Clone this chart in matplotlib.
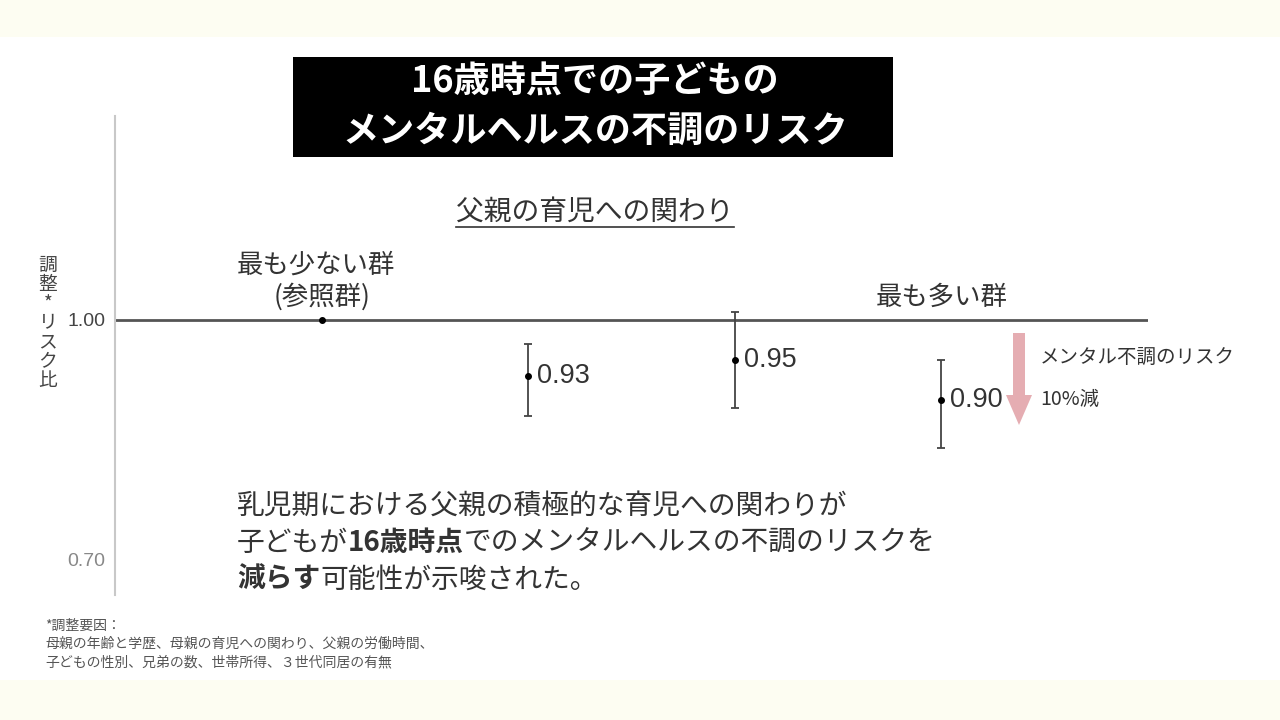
import matplotlib
matplotlib.use('Agg')
import matplotlib.pyplot as plt
from matplotlib.patches import Rectangle, FancyArrow

plt.rcParams['font.family'] = ['Noto Sans CJK JP', 'DejaVu Sans']

# data
x_pos = [1, 2, 3, 4]
risk = [1.00, 0.93, 0.95, 0.90]
ci_low = [0.88, 0.89, 0.84]      # groups 2-4
ci_high = [0.97, 1.01, 0.95]
value_labels = ['0.93', '0.95', '0.90']
yticks = [0.70, 1.00]
ytick_labels = ['0.70', '1.00']

title_lines = ['16歳時点での子どもの', 'メンタルヘルスの不調のリスク']
heading = '父親の育児への関わり'
ref_label = ['最も少ない群', '(参照群)']
top_label = '最も多い群'
ylabel_chars = ['調', '整', '*', 'リ', 'ス', 'ク', '比']
note_lines = ['*調整要因：',
              '母親の年齢と学歴、母親の育児への関わり、父親の労働時間、',
              '子どもの性別、兄弟の数、世帯所得、３世代同居の有無']

txt = '#333333'
num_font = ['Liberation Sans', 'DejaVu Sans']

fig = plt.figure(figsize=(12.8, 7.2), dpi=100)
fig.patch.set_facecolor('white')

# background layer in pixel coords
bg = fig.add_axes([0, 0, 1, 1], zorder=0)
bg.set_xlim(0, 1280)
bg.set_ylim(720, 0)
bg.axis('off')
bg.add_patch(Rectangle((0, 0), 1280, 37, color='#fdfdf2', lw=0))
bg.add_patch(Rectangle((0, 680), 1280, 40, color='#fdfdf2', lw=0))
bg.add_patch(Rectangle((293, 57), 600, 100, color='black', lw=0))
bg.text(595, 82, title_lines[0], ha='center', va='center', color='white',
        fontsize=26, weight='bold')
bg.text(595, 131, title_lines[1], ha='center', va='center', color='white',
        fontsize=26, weight='bold')

h = bg.text(595, 212, heading, ha='center', va='center', color=txt, fontsize=20)

# y label, stacked characters
bg.text(48, 323, '\n'.join(ylabel_chars), ha='center', va='center', color='#444444',
        fontsize=13.5, linespacing=0.88)

# arrow + note
bg.add_patch(FancyArrow(1019, 333, 0, 92, width=12, head_width=26, head_length=30,
                        length_includes_head=True, color='#e5adb2', lw=0))
bg.text(1040, 357, 'メンタル不調のリスク', ha='left', va='center', color=txt, fontsize=14)
bg.text(1040, 399, '10%減', ha='left', va='center', color=txt, fontsize=14)

# footnote
for i, line in enumerate(note_lines):
    bg.text(45, 626 + i * 18, line, ha='left', va='center', color='#555555', fontsize=10)

# body text with bold parts
body = [[('乳児期における父親の積極的な育児への関わりが', 'normal')],
        [('子どもが', 'normal'), ('16歳時点', 'bold'), ('でのメンタルヘルスの不調のリスクを', 'normal')],
        [('減らす', 'bold'), ('可能性が示唆された。', 'normal')]]
for i, parts in enumerate(body):
    prev = None
    for s, w in parts:
        if prev is None:
            prev = bg.text(237, 506 + i * 37, s, ha='left', va='center', color=txt,
                           fontsize=20, weight=w)
        else:
            prev = bg.annotate(s, xy=(1, 0.5), xycoords=prev, ha='left', va='center',
                               color=txt, fontsize=20, weight=w)

# main chart
ax = fig.add_axes([115 / 1280, (720 - 595) / 720, 1033 / 1280, 479 / 720], zorder=2)
ax.patch.set_alpha(0)
ax.set_xlim(0, 5)
ax.set_ylim(1 - 275 / 800, 1 + 204 / 800)
for s in ['top', 'right', 'bottom']:
    ax.spines[s].set_visible(False)
ax.spines['left'].set_color('#c8c8c8')
ax.spines['left'].set_linewidth(1.5)
ax.set_xticks([])
ax.set_yticks(yticks, ytick_labels)
ax.tick_params(axis='y', length=0, pad=7, labelsize=14, labelcolor='#444444')
for lab in ax.get_yticklabels():
    lab.set_family(num_font)
ax.get_yticklabels()[0].set_color('#888888')

ax.axhline(1.0, color='#555555', lw=2, zorder=1)

yerr = [[r - l for r, l in zip(risk[1:], ci_low)],
        [hi - r for r, hi in zip(risk[1:], ci_high)]]
ax.errorbar(x_pos[1:], risk[1:], yerr=yerr, fmt='none', ecolor='#444444',
            elinewidth=1.3, capsize=3, capthick=1.3, zorder=3)
ax.plot(x_pos, risk, 'o', color='black', ms=4, zorder=5)

for xv, yv, lbl in zip(x_pos[1:], risk[1:], value_labels):
    ax.annotate(lbl, (xv, yv), xytext=(9, 0), textcoords='offset pixels',
                ha='left', va='center', fontsize=19.5, color=txt, family=num_font)

ax.annotate(ref_label[0], (x_pos[0], risk[0]), xytext=(-6, 55), textcoords='offset pixels',
            ha='center', va='center', fontsize=19, color=txt)
ax.annotate(ref_label[1], (x_pos[0], risk[0]), xytext=(0, 23), textcoords='offset pixels',
            ha='center', va='center', fontsize=19, color=txt)
ax.annotate(top_label, (x_pos[3], risk[0]), xytext=(0, 23), textcoords='offset pixels',
            ha='center', va='center', fontsize=19, color=txt)

# underline heading
fig.canvas.draw()
bb = h.get_window_extent()
uy = 720 - bb.y0
bg.plot([bb.x0, bb.x1], [uy, uy], color=txt, lw=1.2)

fig.savefig('out.png', dpi=100)
